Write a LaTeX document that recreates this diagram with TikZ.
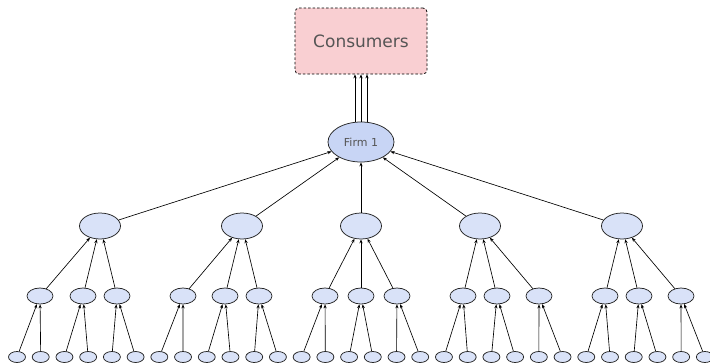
\documentclass[tikz,border=0pt]{standalone}
\usepackage{fontspec}
\setmainfont{DejaVu Sans}
\usetikzlibrary{shapes.geometric,arrows.meta}
\definecolor{marketfill}{HTML}{F9CFD2}
\definecolor{firmfill}{HTML}{C8D5F5}
\definecolor{suppfill}{HTML}{D9E2F8}
\definecolor{labelgray}{HTML}{555555}
\tikzset{
  market/.style={draw=black, fill=marketfill, rounded corners=4pt, line width=0.75pt,
    dash pattern=on 2.5pt off 2pt, minimum width=132pt, minimum height=66pt,
    text=labelgray, font=\fontsize{17}{20}\selectfont},
  firmnode/.style={ellipse, draw=black!85, fill=firmfill, line width=0.75pt, inner sep=0pt,
    minimum width=66pt, minimum height=40pt, text=labelgray, font=\fontsize{11}{13}\selectfont},
  supp/.style={ellipse, draw=black!85, fill=suppfill, line width=0.75pt, inner sep=0pt,
    minimum width=41pt, minimum height=26pt},
  subsupp/.style={supp, minimum width=26pt, minimum height=16pt},
  leafnode/.style={supp, minimum width=17pt, minimum height=11pt},
  flow/.style={-{Stealth[length=4pt,width=3.2pt]}, line width=0.65pt}
}
\begin{document}
\begin{tikzpicture}[x=1pt,y=-1pt]
\useasboundingbox (0,0) rectangle (710,364);

\node[market] (cons) at (361,41) {Consumers};
\node[firmnode] (firm) at (361,142) {Firm 1};

% first tier suppliers
\foreach \i/\x in {1/100,2/242,3/361,4/480,5/622}
  \node[supp] (s\i) at (\x,226) {};

% second tier suppliers
\foreach \j/\x in {1/40,2/83,3/117,4/183,5/225,6/259,7/325,8/361,
                   9/397,10/463,11/497,12/539,13/605,14/639,15/681}
  \node[subsupp] (t\j) at (\x,296) {};

% raw inputs, two per second tier supplier
\foreach \k in {1,...,30}
  \node[leafnode] (r\k) at ({17+23.72*(\k-1)},357) {};

\foreach \k in {1,...,30} {
  \pgfmathtruncatemacro{\up}{ceil(\k/2)}
  \draw[flow] (r\k) -- (t\up);
}
\foreach \j in {1,...,15} {
  \pgfmathtruncatemacro{\up}{ceil(\j/3)}
  \draw[flow] (t\j) -- (s\up);
}
\foreach \i in {1,...,5}
  \draw[flow] (s\i) -- (firm);

% goods going out to the market
\foreach \d in {-6,0,6}
  \draw[flow] ([xshift=\d pt]firm.north) -- ([xshift=\d pt]cons.south);
\end{tikzpicture}
\end{document}
